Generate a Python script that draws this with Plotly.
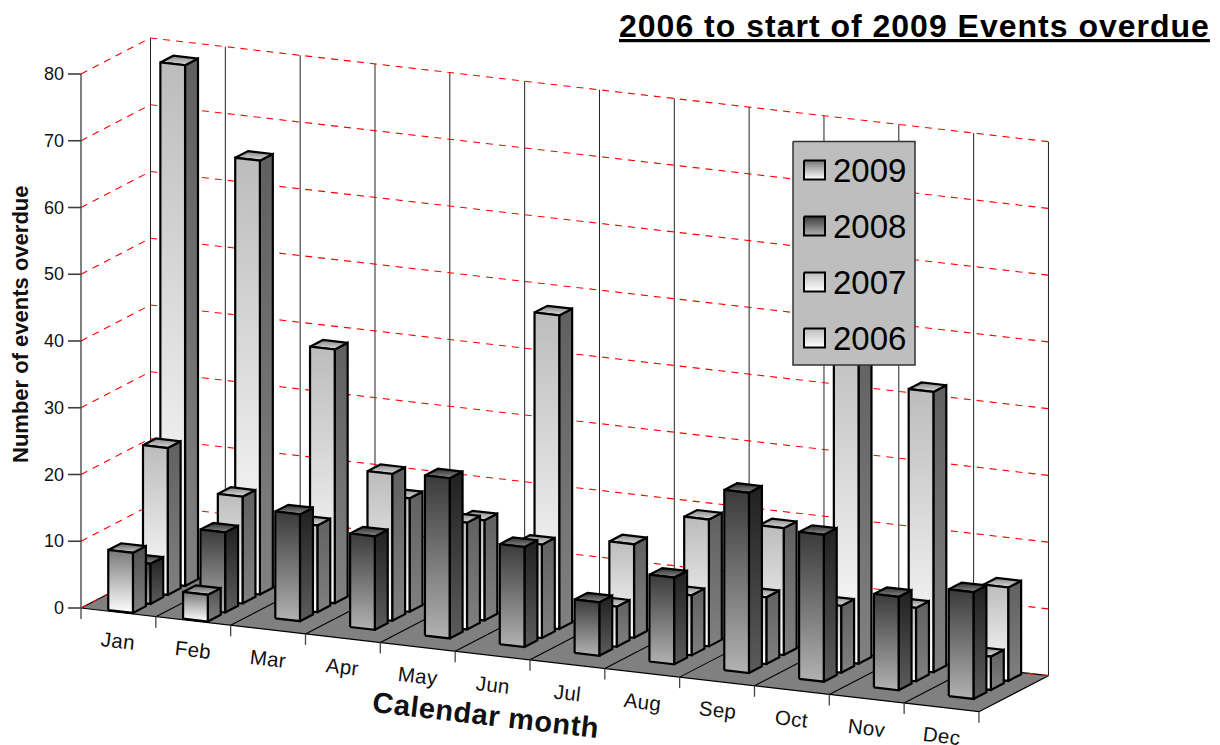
import plotly.graph_objects as go

months = ["Jan","Feb","Mar","Apr","May","Jun","Jul","Aug","Sep","Oct","Nov","Dec"]
years = ["2009","2008","2007","2006"]
v2009 = [9,4,None,None,None,None,None,None,None,None,None,None]
v2008 = [6,12,16,14,24,15,8,13,27,22,14,16]
v2007 = [22,16,13,22,16,14,6,9,10,10,11,5]
v2006 = [78,65,38,17,15,47,14,19,19,50,42,14]
y_ticks = [0,10,20,30,40,50,60,70,80]

series = [v2009, v2008, v2007, v2006]

# colours: (front top, front bottom, side top, side bottom, cap back, cap front)
styles = [
    ("#787878","#ffffff","#505050","#808080","#606060","#c8c8c8"),
    ("#3a3a3a","#b2b2b2","#202020","#5c5c5c","#303030","#8c8c8c"),
    ("#bcbcbc","#ffffff","#606060","#808080","#888888","#dcdcdc"),
    ("#bcbcbc","#ffffff","#606060","#808080","#888888","#dcdcdc"),
]

# oblique projection of (month position, depth, value) to the page plane
OX, OY = 81.0, 137.0      # origin, y measured upward
MX, MY = 74.83, -8.64     # per month
DX, DY = 69.5, 36.0       # full depth of the floor
VY = 6.675                # per value unit
def P(u, d, val=0):
    return OX + MX*u + DX*d, OY + MY*u + DY*d + VY*val

BAR_U0, BAR_W = 0.341, 0.33
ROW_STEP, BAR_D = 0.25, 0.186
BAR_D0 = 0.025
RED = "#ff0000"
fig = go.Figure()

def poly(pts, fill=None, line="black", width=1.0, grad=None, dash=None, close=True):
    xs = [p[0] for p in pts]; ys = [p[1] for p in pts]
    if close:
        xs.append(xs[0]); ys.append(ys[0])
    kw = dict(x=xs, y=ys, mode="lines", hoverinfo="skip", showlegend=False,
              line=dict(color=line, width=width, dash=dash))
    if grad is not None:
        kw["fill"] = "toself"
        kw["fillgradient"] = dict(type="vertical", colorscale=[[0, grad[0]], [1, grad[1]]])
    elif fill is not None:
        kw["fill"] = "toself"; kw["fillcolor"] = fill
    fig.add_trace(go.Scatter(**kw))

def spaced(text, px):
    return f'<span style="letter-spacing:{px}px">{text}</span>'

# floor
poly([P(0,0),P(12,0),P(12,1),P(0,1)], fill="#808080", line="black", width=1.2)
for m in range(1,12):
    poly([P(m,0),P(m,1)], close=False, width=1.1)
# back wall verticals
for m in range(0,13):
    poly([P(m,1),P(m,1,80)], close=False, width=1.0, line="#222222")
# front-left wall edge
poly([P(0,0,0),P(0,0,80)], close=False, width=2, line="#808080")
# grid
for t in y_ticks:
    poly([P(0,0,t),P(0,1,t),P(12,1,t)], close=False, width=1.1, line=RED, dash="7px,6px")
# y ticks
for t in y_ticks:
    x,y = P(0,0,t)
    poly([(x-13,y),(x,y)], close=False, width=1.6, line="#404040")
    fig.add_annotation(x=x-15, y=y, text=str(t), showarrow=False, xanchor="right", yanchor="middle",
                       font=dict(family="Liberation Sans", size=18, color="#111111"))
# month ticks
for m in range(0,13):
    x,y = P(m,0)
    poly([(x,y),(x,y-11)], close=False, width=1.3, line="#444444")
for m, name in enumerate(months):
    x,y = P(m+0.5,0)
    fig.add_annotation(x=x, y=y-28.5, text=spaced(name,0.3), showarrow=False, textangle=6.6,
                       font=dict(family="Liberation Sans", size=20.5, color="#111111"))

# bars, back row first
for k in [3,2,1,0]:
    front_t, front_b, side_t, side_b, cap_t, cap_b = styles[k]
    for m, val in enumerate(series[k]):
        if val is None:
            continue
        u0 = m + BAR_U0; u1 = u0 + BAR_W
        d0 = BAR_D0 + ROW_STEP*k; d1 = d0 + BAR_D
        poly([P(u1,d0,0),P(u1,d1,0),P(u1,d1,val),P(u1,d0,val)], grad=(side_b, side_t), width=2.2)
        poly([P(u0,d0,val),P(u1,d0,val),P(u1,d1,val),P(u0,d1,val)], grad=(cap_b, cap_t), width=2.2)
        poly([P(u0,d0,0),P(u1,d0,0),P(u1,d0,val),P(u0,d0,val)], grad=(front_b, front_t), width=2.2)

# legend
LX0, LX1, LTOP, LBOT = 793, 915, 745-141.5, 745-365
poly([(LX0,LTOP),(LX1,LTOP),(LX1,LBOT),(LX0,LBOT)], fill="#bebebe", line="#333333", width=1.5)
for i, yr in enumerate(years):
    cy = 745 - (170 + i*56)
    poly([(804,cy+9.5),(825,cy+9.5),(825,cy-9.5),(804,cy-9.5)], grad=(styles[i][1], styles[i][0]), width=2)
    fig.add_annotation(x=831, y=cy, text=yr, showarrow=False, xanchor="left", yanchor="middle",
                       font=dict(family="Liberation Sans", size=33, color="black"))

# titles
fig.add_annotation(x=1212, y=745-26, text="<b>"+spaced("2006 to start of 2009 Events overdue",1)+"</b>", showarrow=False,
                   xanchor="right", yanchor="middle",
                   font=dict(family="Liberation Sans", size=32, color="black", lineposition="under"))
fig.add_annotation(x=20, y=745-324, text="<b>Number of events overdue</b>", showarrow=False, textangle=-90,
                   font=dict(family="Liberation Sans", size=22, color="#111111"))
fig.add_annotation(x=486, y=745-715, text="<b>"+spaced("Calendar month",0.5)+"</b>", showarrow=False, textangle=6.6,
                   font=dict(family="Liberation Sans", size=29, color="#111111"))

fig.update_layout(width=1220, height=745, margin=dict(l=0,r=0,t=0,b=0), paper_bgcolor="white",
                  plot_bgcolor="white", showlegend=False,
                  xaxis=dict(range=[0,1220], visible=False, fixedrange=True),
                  yaxis=dict(range=[0,745], visible=False, fixedrange=True))
fig.write_html("out.html", post_script="document.body.style.margin='0';", config={"displayModeBar": False})
